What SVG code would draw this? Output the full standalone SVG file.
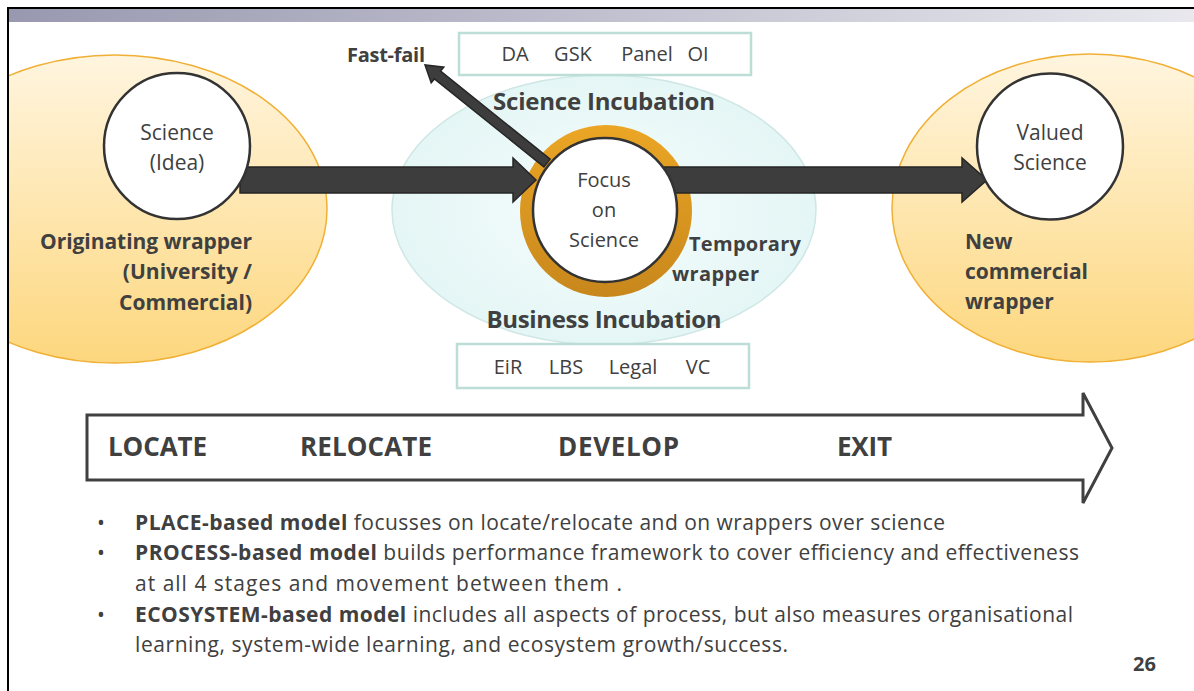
<svg xmlns="http://www.w3.org/2000/svg" width="1194" height="691" viewBox="0 0 1194 691">
  <defs>
    <linearGradient id="band" x1="0" y1="0" x2="1" y2="0">
      <stop offset="0" stop-color="#9898b0"/>
      <stop offset="1" stop-color="#e8e8ee"/>
    </linearGradient>
    <linearGradient id="wrapFill" x1="0" y1="0" x2="0" y2="1">
      <stop offset="0" stop-color="#fff5df"/>
      <stop offset="1" stop-color="#fdd77e"/>
    </linearGradient>
    <radialGradient id="incubFill" cx="0.5" cy="0.5" r="0.5">
      <stop offset="0" stop-color="#f6fdfd"/>
      <stop offset="1" stop-color="#e4f6f5"/>
    </radialGradient>
    <linearGradient id="ringFill" x1="0" y1="0" x2="0" y2="1">
      <stop offset="0" stop-color="#eba625"/>
      <stop offset="1" stop-color="#c8871c"/>
    </linearGradient>
    <clipPath id="slideArea">
      <rect x="8" y="8" width="1186" height="683"/>
    </clipPath>
  </defs>
  <style>
    text { font-family: "Open Sans", "Noto Sans", "Liberation Sans", sans-serif; fill: #404040; }
    .b { font-weight: bold; }
    .wrapper { fill: url(#wrapFill); stroke: #f0b035; stroke-width: 1.5; }
    .idea { fill: #ffffff; stroke: #333333; stroke-width: 2.5; }
    .tag { fill: #ffffff; stroke: #bcded6; stroke-width: 2.5; }
    .flow { fill: #3d3d3d; stroke: #262626; stroke-width: 1.5; stroke-linejoin: miter; }
    .c20 { font-size: 20px; }
    .c21 { font-size: 21px; }
    .note { font-size: 21px; }
  </style>

  <rect width="1194" height="691" fill="#ffffff"/>

  <!-- slide frame and title band -->
  <rect x="8" y="9" width="1186" height="13" fill="url(#band)"/>

  <!-- wrapper ellipses -->
  <g id="originating-wrapper">
    <ellipse class="wrapper" cx="115" cy="209" rx="212" ry="154" clip-path="url(#slideArea)"/>
    <text class="b c21" x="252" y="249" text-anchor="end" textLength="212">Originating wrapper</text>
    <text class="b c21" x="252" y="279" text-anchor="end">(University /</text>
    <text class="b c21" x="252" y="310" text-anchor="end">Commercial)</text>
  </g>
  <g id="new-wrapper">
    <ellipse class="wrapper" cx="1090" cy="208" rx="198" ry="154"/>
    <text class="b c21" x="965" y="249">New</text>
    <text class="b c21" x="965" y="279" textLength="123">commercial</text>
    <text class="b c21" x="965" y="309">wrapper</text>
  </g>

  <line x1="7" y1="8" x2="1194" y2="8" stroke="#000" stroke-width="2"/>
  <line x1="8" y1="7" x2="8" y2="691" stroke="#000" stroke-width="2"/>

  <!-- incubation zone -->
  <g id="incubation">
    <ellipse cx="604" cy="210" rx="212" ry="135" fill="url(#incubFill)" stroke="#cfe7e5" stroke-width="1.5"/>
    <text class="b" x="604" y="110" font-size="24" text-anchor="middle" textLength="222">Science Incubation</text>
    <text class="b" x="604" y="328" font-size="24" text-anchor="middle" textLength="235">Business Incubation</text>
    <text class="b c20" x="689" y="251" textLength="112">Temporary</text>
    <text class="b c20" x="672" y="281" textLength="87">wrapper</text>
  </g>

  <g id="science-partners">
    <rect class="tag" x="459" y="33" width="292" height="42"/>
    <text class="c20" x="515" y="61" text-anchor="middle">DA</text>
    <text class="c20" x="573" y="61" text-anchor="middle">GSK</text>
    <text class="c20" x="647" y="61" text-anchor="middle">Panel</text>
    <text class="c20" x="698" y="61" text-anchor="middle">OI</text>
  </g>
  <g id="business-partners">
    <rect class="tag" x="457" y="344" width="292" height="44"/>
    <text class="c20" x="508" y="374" text-anchor="middle">EiR</text>
    <text class="c20" x="566" y="374" text-anchor="middle">LBS</text>
    <text class="c20" x="633" y="374" text-anchor="middle">Legal</text>
    <text class="c20" x="698" y="374" text-anchor="middle">VC</text>
  </g>

  <!-- orange temporary wrapper ring around the focus node -->
  <g id="focus-ring">
    <circle cx="606" cy="211" r="86" fill="url(#ringFill)"/>
  </g>

  <!-- connectors: drawn over the ring, under the node cores -->
  <g id="connectors">
    <polygon class="flow" points="240,167 513,167 513,158 536,180 513,202 513,193 240,193"/>
    <polygon class="flow" points="640,167 962,167 962,158 987,180 962,202 962,193 640,193"/>
    <polygon class="flow" points="550.1,159.1 440.6,71.1 443.8,67.2 425,65 431.2,82.8 434.4,78.9 543.9,166.9"/>
  </g>

  <g id="fast-fail">
    <text class="b c20" x="347" y="62" textLength="78">Fast-fail</text>
  </g>

  <g id="science-idea">
    <circle class="idea" cx="177" cy="146" r="73"/>
    <text class="c21" x="177" y="140" text-anchor="middle">Science</text>
    <text class="c21" x="177" y="170" text-anchor="middle">(Idea)</text>
  </g>

  <g id="focus">
    <circle class="idea" cx="605" cy="210" r="72"/>
    <text class="c20" x="604" y="187" text-anchor="middle">Focus</text>
    <text class="c20" x="604" y="217" text-anchor="middle">on</text>
    <text class="c20" x="604" y="247" text-anchor="middle">Science</text>
  </g>

  <g id="valued-science">
    <circle class="idea" cx="1050" cy="146.5" r="73"/>
    <text class="c21" x="1050" y="140" text-anchor="middle">Valued</text>
    <text class="c21" x="1050" y="170" text-anchor="middle">Science</text>
  </g>

  <!-- stage timeline -->
  <g id="stages">
    <polygon points="87,415 1083,415 1083,393 1112,448 1083,503 1083,480 87,480" fill="#ffffff" stroke="#404040" stroke-width="3"/>
    <text class="b" x="108" y="456" font-size="26" textLength="99">LOCATE</text>
    <text class="b" x="300" y="456" font-size="26" textLength="132">RELOCATE</text>
    <text class="b" x="558" y="456" font-size="26" textLength="121">DEVELOP</text>
    <text class="b" x="837" y="456" font-size="26" textLength="55">EXIT</text>
  </g>

  <!-- notes -->
  <g id="notes">
    <text class="note" x="97" y="530">•</text>
    <text class="note" x="135" y="530" textLength="810"><tspan class="b">PLACE-based model</tspan> focusses on locate/relocate and on wrappers over science</text>
    <text class="note" x="97" y="560">•</text>
    <text class="note" x="135" y="560" textLength="944"><tspan class="b">PROCESS-based model</tspan> builds performance framework to cover efficiency and effectiveness</text>
    <text class="note" x="135" y="591" textLength="487">at all 4 stages and movement between them .</text>
    <text class="note" x="97" y="622">•</text>
    <text class="note" x="135" y="622" textLength="938"><tspan class="b">ECOSYSTEM-based model</tspan> includes all aspects of process, but also measures organisational</text>
    <text class="note" x="135" y="652" textLength="653">learning, system-wide learning, and ecosystem growth/success.</text>
    <text class="b c20" x="1133" y="671">26</text>
  </g>
</svg>
